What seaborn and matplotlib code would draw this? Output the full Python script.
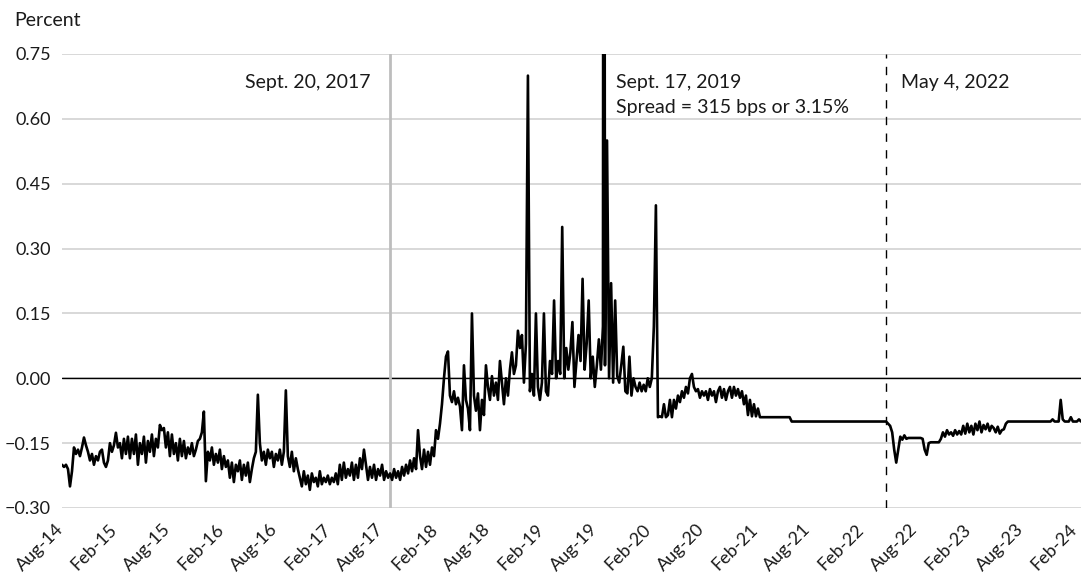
import numpy as np
import pandas as pd
import matplotlib
matplotlib.use("Agg")
import matplotlib.pyplot as plt
from matplotlib.ticker import FuncFormatter
import seaborn as sns

# Daily spread (percent), stored in consecutive date blocks; values in each
# block are evenly spaced between the block's start and end dates.
block_edges = ["2014-08-31", "2015-04-19", "2015-12-13", "2016-07-04", "2016-11-17",
               "2017-04-02", "2017-09-20", "2018-03-29", "2019-03-04", "2020-03-19",
               "2021-03-01"]

spread_a = [-0.200, -0.205, -0.200, -0.210, -0.250, -0.215, -0.160, -0.175, -0.165, -0.180,
            -0.160, -0.137, -0.155, -0.170, -0.190, -0.175, -0.200, -0.180, -0.190, -0.170,
            -0.165, -0.195, -0.205, -0.190, -0.150, -0.170, -0.155, -0.126, -0.160, -0.150,
            -0.185, -0.140, -0.175, -0.135]
spread_b = [-0.185, -0.140, -0.175, -0.130, -0.200, -0.150, -0.175, -0.135, -0.195, -0.145,
            -0.170, -0.130, -0.180, -0.140, -0.160, -0.108, -0.120, -0.115, -0.160, -0.125,
            -0.180, -0.130, -0.175, -0.150, -0.190, -0.140, -0.180, -0.145, -0.185, -0.160,
            -0.175, -0.150, -0.180, -0.165, -0.145]
spread_c = [-0.140, -0.125, -0.077, -0.238, -0.170, -0.190, -0.160, -0.200, -0.175, -0.195,
            -0.165, -0.210, -0.180, -0.205, -0.190, -0.230, -0.195, -0.240, -0.200, -0.215,
            -0.190, -0.235, -0.200, -0.225, -0.195, -0.240, -0.210, -0.185, -0.170, -0.038]
spread_d = [-0.150, -0.190, -0.170, -0.200, -0.165, -0.185, -0.170, -0.205, -0.175, -0.190,
            -0.165, -0.200, -0.170, -0.028, -0.180, -0.205, -0.170, -0.215, -0.185, -0.210]
spread_e = [-0.230, -0.250, -0.215, -0.245, -0.225, -0.258, -0.220, -0.240, -0.230, -0.250,
            -0.215, -0.245, -0.230, -0.240, -0.225, -0.245, -0.230, -0.240, -0.220, -0.245]
spread_f = [-0.200, -0.235, -0.195, -0.230, -0.210, -0.225, -0.195, -0.235, -0.200, -0.230,
            -0.185, -0.210, -0.165, -0.200, -0.235, -0.205, -0.230, -0.200, -0.235, -0.210,
            -0.225, -0.200, -0.235, -0.215, -0.230]
spread_g = [-0.220, -0.235, -0.210, -0.230, -0.215, -0.235, -0.205, -0.225, -0.200, -0.220,
            -0.190, -0.215, -0.185, -0.210, -0.120, -0.180, -0.210, -0.165, -0.205, -0.170,
            -0.200, -0.160, -0.180, -0.120, -0.140, -0.105, -0.060, 0.000]
spread_h = [0.050, 0.062, -0.040, -0.055, -0.030, -0.060, -0.045, -0.065, -0.120, 0.030,
            -0.050, -0.070, -0.120, 0.150, -0.040, -0.075, -0.035, -0.120, -0.050, -0.085,
            0.030, -0.020, -0.050, 0.005, -0.040, -0.010, -0.050, 0.040, -0.010, -0.060,
            0.000, -0.040, 0.020, 0.060, 0.010, 0.030, 0.110, 0.070, 0.100, -0.010,
            0.080, 0.700, -0.030, 0.010, -0.040, 0.150, -0.020, -0.050, -0.010, 0.150]
spread_i = [-0.030, -0.040, 0.040, 0.010, 0.180, 0.000, 0.040, 0.010, 0.350, 0.000,
            0.070, 0.020, 0.060, 0.130, -0.020, 0.040, 0.100, 0.040, 0.230, 0.020,
            0.080, 0.180, 0.000, 0.050, -0.020, 0.030, 0.090, 0.020, 0.120, 0.030,
            0.550, 0.000, 0.220, -0.010, 0.180, 0.005, -0.010, 0.030, 0.073, -0.030,
            -0.035, 0.050, -0.040, 0.000, -0.020, -0.030, -0.010, -0.030, -0.015, -0.030,
            0.000, -0.020, 0.000, 0.120, 0.400]
spread_j = [-0.090, -0.088, -0.090, -0.060, -0.090, -0.085, -0.050, -0.090, -0.050, -0.070,
            -0.040, -0.055, -0.030, -0.045, -0.020, -0.035, 0.000, 0.010, -0.020, -0.030,
            -0.025, -0.045, -0.030, -0.040, -0.030, -0.050, -0.025, -0.040, -0.030, -0.055,
            -0.030, -0.020, -0.045, -0.025, -0.050, -0.030, -0.020, -0.045, -0.020, -0.040,
            -0.025, -0.045, -0.030, -0.060, -0.040, -0.085, -0.050, -0.088, -0.060, -0.088,
            -0.070]

# Period of unchanged spread, 2021-2022
flat_dates = ["2021-03-01", "2021-06-10", "2021-06-17", "2022-05-04"]
flat_values = [-0.090, -0.090, -0.100, -0.100]

# May 2022 onward
late_start, late_end = "2022-05-04", "2024-02-26"
spread_k = [-0.100, -0.105, -0.110, -0.125, -0.165, -0.195, -0.165, -0.135, -0.142, -0.132,
            -0.140, -0.138, -0.138, -0.138, -0.138, -0.138, -0.138, -0.138, -0.140, -0.165,
            -0.177, -0.150, -0.148, -0.148, -0.148, -0.148, -0.148, -0.140, -0.125, -0.135,
            -0.120, -0.130, -0.125, -0.133, -0.120, -0.130, -0.122, -0.130, -0.110, -0.128,
            -0.105, -0.125, -0.110, -0.130, -0.105, -0.120, -0.100, -0.125, -0.108, -0.118,
            -0.105, -0.122, -0.110, -0.115, -0.125, -0.112, -0.128, -0.120, -0.118, -0.105,
            -0.100, -0.100, -0.100, -0.100, -0.100, -0.100, -0.100, -0.100, -0.100, -0.100,
            -0.100, -0.100, -0.100, -0.100, -0.100, -0.100, -0.100, -0.100, -0.100, -0.100,
            -0.100, -0.100, -0.095, -0.100, -0.100, -0.100, -0.050, -0.095, -0.100, -0.100,
            -0.100, -0.090, -0.100, -0.100, -0.100, -0.095, -0.100]

# Marked dates
event_dates = ["2017-09-20", "2019-09-17", "2022-05-04"]
event_labels = ["Sept. 20, 2017", "Sept. 17, 2019", "May 4, 2022"]
peak_date, peak_value = "2019-09-17", 3.15
peak_note = "Spread = 315 bps or 3.15%"

tick_labels = ["Aug-14", "Feb-15", "Aug-15", "Feb-16", "Aug-16", "Feb-17", "Aug-17",
               "Feb-18", "Aug-18", "Feb-19", "Aug-19", "Feb-20", "Aug-20", "Feb-21",
               "Aug-21", "Feb-22", "Aug-22", "Feb-23", "Aug-23", "Feb-24"]
y_ticks = [-0.30, -0.15, 0.00, 0.15, 0.30, 0.45, 0.60, 0.75]

# ---- assemble the series ----
blocks = [spread_a, spread_b, spread_c, spread_d, spread_e, spread_f,
          spread_g, spread_h, spread_i, spread_j]
frames = []
for vals, start, end in zip(blocks, block_edges[:-1], block_edges[1:]):
    d = pd.date_range(start, end, periods=len(vals) + 1)[:-1]
    frames.append(pd.DataFrame({"date": d, "spread": vals}))
frames.append(pd.DataFrame({"date": pd.to_datetime(flat_dates), "spread": flat_values}))
frames.append(pd.DataFrame({"date": pd.date_range(late_start, late_end, periods=len(spread_k)),
                            "spread": spread_k}))
frames.append(pd.DataFrame({"date": [pd.Timestamp(peak_date)], "spread": [peak_value]}))
df = pd.concat(frames).sort_values("date").drop_duplicates("date", keep="last")

# ---- figure ----
sns.set_theme(style="white")
plt.rcParams["font.family"] = ["Lato", "DejaVu Sans"]
plt.rcParams["axes.unicode_minus"] = True

W, H = 1081, 573
fig = plt.figure(figsize=(W / 100, H / 100), dpi=100)
ax = fig.add_axes([62 / W, 1 - 508 / H, 1 - 62 / W, (508 - 54) / H])

ax.set_ylim(-0.30, 0.75)
ax.set_yticks(y_ticks)
ax.yaxis.set_major_formatter(FuncFormatter(lambda v, p: f"{v:.2f}".replace("-", "\u2212")))
ax.grid(axis="y", color="#d2d2d2", lw=1.2)
ax.grid(axis="x", visible=False)
ax.axhline(0, color="black", lw=1.0, zorder=2)

ev = pd.to_datetime(event_dates)
ax.axvline(ev[0], color="#bdbdbd", lw=2.0, zorder=2)
ax.axvline(ev[2], color="black", lw=1.0, dashes=(6, 6), zorder=2)

sns.lineplot(data=df, x="date", y="spread", color="black", lw=1.9,
             estimator=None, ax=ax, zorder=3)

ax.set_xlim(pd.Timestamp("2014-08-31"), pd.Timestamp("2024-02-26"))
tick_pos = pd.date_range("2014-09-10", "2024-02-17", periods=len(tick_labels))
ax.set_xticks(tick_pos)
ax.set_xticklabels(tick_labels, rotation=45, ha="right", va="baseline",
                   rotation_mode="anchor")
ax.tick_params(axis="x", length=0, pad=16, labelsize=13, colors="#1a1a1a")
ax.tick_params(axis="y", length=0, pad=8, labelsize=13, colors="#1a1a1a")
ax.set_xlabel("")
ax.set_ylabel("")
for s in ax.spines.values():
    s.set_visible(False)

txt = dict(fontsize=14, color="#1a1a1a", textcoords="offset points", va="center")
ax.annotate(event_labels[0], xy=(ev[0], 0.685), xytext=(-14, 0), ha="right", **txt)
ax.annotate(event_labels[1], xy=(ev[1], 0.685), xytext=(9, 0), ha="left", **txt)
ax.annotate(peak_note, xy=(ev[1], 0.627), xytext=(9, 0), ha="left", **txt)
ax.annotate(event_labels[2], xy=(ev[2], 0.685), xytext=(11, 0), ha="left", **txt)

fig.text(14 / W, 1 - 20 / H, "Percent", ha="left", va="center", fontsize=14, color="#1a1a1a")

fig.savefig("out.png", dpi=100)
